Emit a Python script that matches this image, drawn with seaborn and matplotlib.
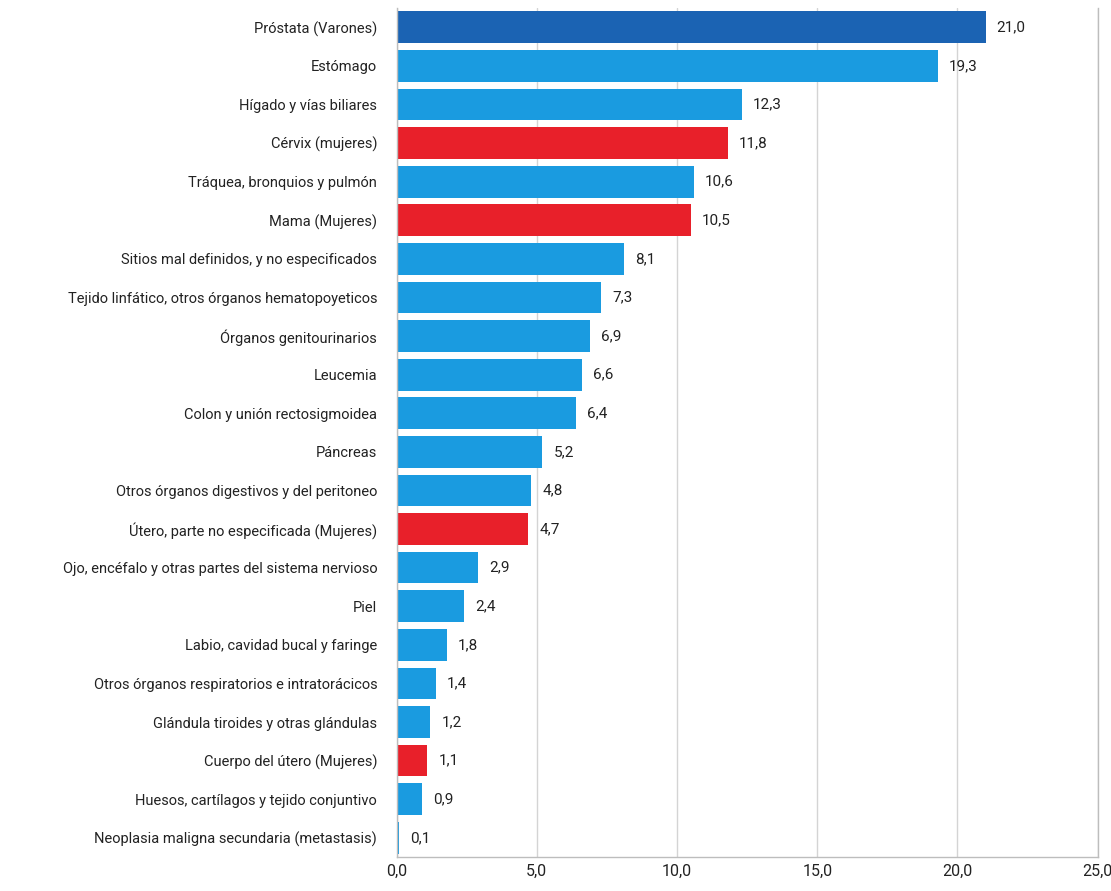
import matplotlib
matplotlib.use("Agg")
import pandas as pd
import seaborn as sns
import matplotlib.pyplot as plt

# data
categorias = [
    "Próstata (Varones)",
    "Estómago",
    "Hígado y vías biliares",
    "Cérvix (mujeres)",
    "Tráquea, bronquios y pulmón",
    "Mama (Mujeres)",
    "Sitios mal definidos, y no especificados",
    "Tejido linfático, otros órganos hematopoyeticos",
    "Órganos genitourinarios",
    "Leucemia",
    "Colon y unión rectosigmoidea",
    "Páncreas",
    "Otros órganos digestivos y del peritoneo",
    "Útero, parte no especificada (Mujeres)",
    "Ojo, encéfalo y otras partes del sistema nervioso",
    "Piel",
    "Labio, cavidad bucal y faringe",
    "Otros órganos respiratorios e intratorácicos",
    "Glándula tiroides y otras glándulas",
    "Cuerpo del útero (Mujeres)",
    "Huesos, cartílagos y tejido conjuntivo",
    "Neoplasia maligna secundaria (metastasis)",
]
valores = [21.0, 19.3, 12.3, 11.8, 10.6, 10.5, 8.1, 7.3, 6.9, 6.6, 6.4,
           5.2, 4.8, 4.7, 2.9, 2.4, 1.8, 1.4, 1.2, 1.1, 0.9, 0.1]
grupo = ["varones", "general", "general", "mujeres", "general", "mujeres",
         "general", "general", "general", "general", "general", "general",
         "general", "mujeres", "general", "general", "general", "general",
         "general", "mujeres", "general", "general"]
x_ticks = [0, 5, 10, 15, 20, 25]

colores_grupo = {"varones": "#1b63b3", "general": "#1a9be0", "mujeres": "#e8202a"}

df = pd.DataFrame({"categoria": categorias, "valor": valores, "grupo": grupo})

sns.set_style("white")
plt.rcParams["font.family"] = ["Roboto", "DejaVu Sans"]

fig = plt.figure(figsize=(11.11, 8.91), dpi=100)
ax = fig.add_axes([0.357, 0.038, 0.631, 0.953])

sns.barplot(data=df, x="valor", y="categoria", hue="grupo",
            palette=colores_grupo, dodge=False, width=0.82, saturation=1,
            linewidth=0, legend=False, ax=ax, zorder=2)

for cont in ax.containers:
    etiquetas = [f"{b.get_width():.1f}".replace(".", ",") if b.get_width() > 0 else ""
                 for b in cont]
    ax.bar_label(cont, labels=etiquetas, padding=8, fontsize=11, color="#222222")

ax.set_xlim(0, 25)
ax.set_ylim(21.5, -0.5)
ax.set_xticks(x_ticks)
ax.set_xticklabels([f"{t:.1f}".replace(".", ",") for t in x_ticks], fontsize=11.5, color="#222222")
ax.tick_params(axis="y", labelsize=10.5, pad=14, length=0, labelcolor="#222222")
ax.tick_params(axis="x", pad=5, length=0)
ax.set_xlabel("")
ax.set_ylabel("")

ax.xaxis.grid(True, color="#d4d4d4", linewidth=1, zorder=0)
ax.set_axisbelow(True)
ax.spines["top"].set_visible(False)
for s in ["left", "bottom", "right"]:
    ax.spines[s].set_color("#bdbdbd")
    ax.spines[s].set_linewidth(1)

fig.savefig("out.png", dpi=100)
